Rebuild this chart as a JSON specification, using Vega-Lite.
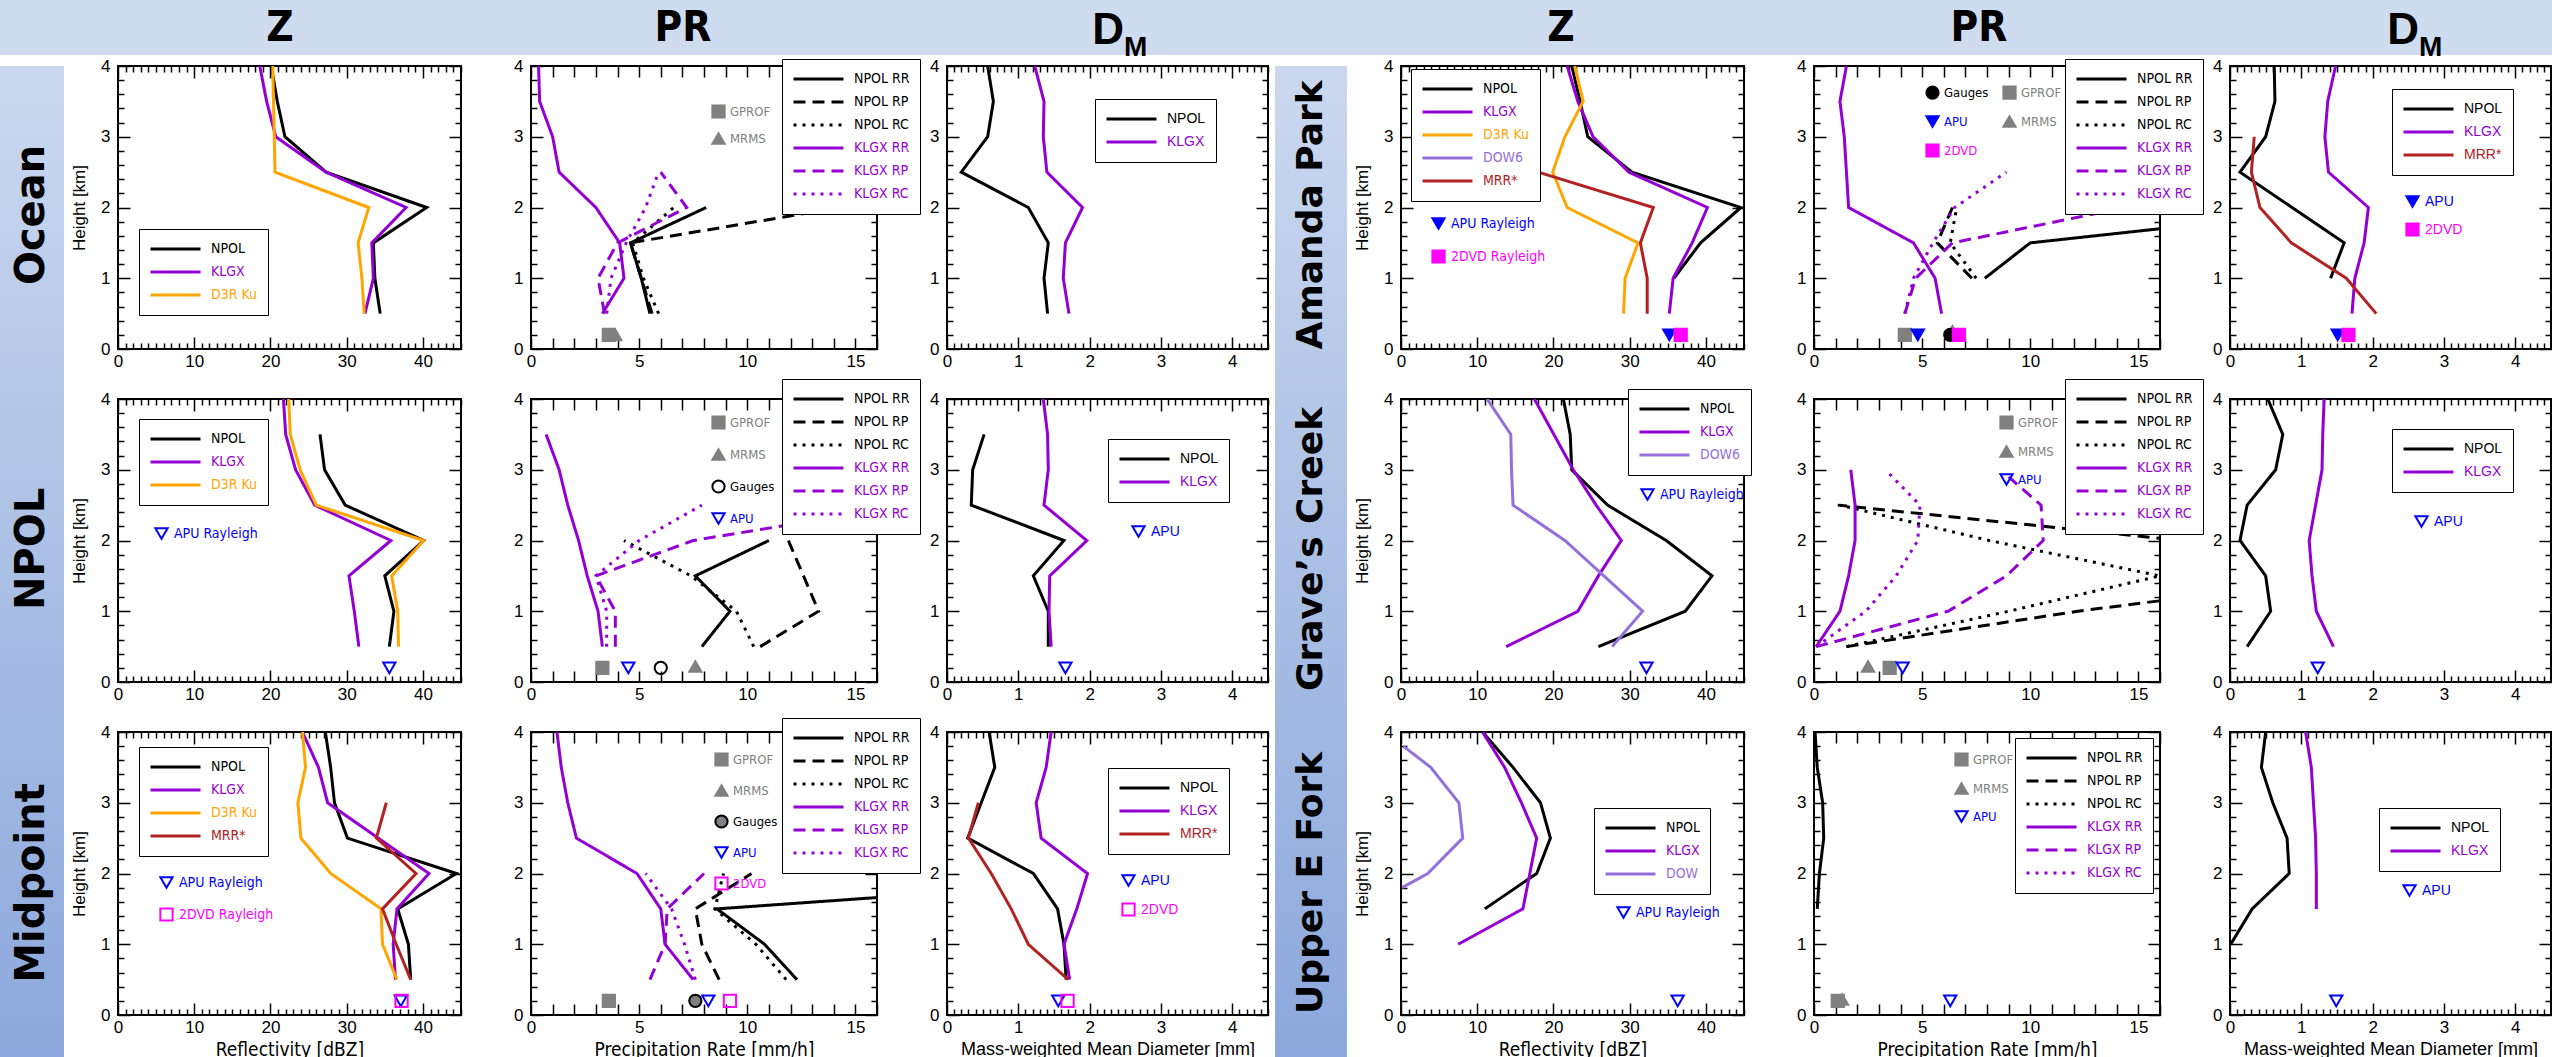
{
"$schema": "https://vega.github.io/schema/vega-lite/v6.json",
"padding": 0,
"background": "white",
"spacing": -6,
"config": {
  "view": {"stroke": "#000000", "strokeWidth": 2},
  "axis": {"domain": false, "grid": false, "labelFont": "Liberation Sans", "labelFontSize": 17, "labelColor": "#000000", "titleFont": "Liberation Sans", "titleFontSize": 17, "titleFontWeight": "normal", "titleColor": "#000000", "tickColor": "#000000", "tickWidth": 1.5, "labelFlush": false, "labelOverlap": false, "labelBound": false},
  "axisX": {"labelPadding": 4},
  "axisY": {"labelPadding": 8},
  "legend": {"orient": "none", "labelFont": "Liberation Sans Narrow, DejaVu Sans Condensed, Liberation Sans, sans-serif", "labelFontSize": 14, "labelLimit": 400, "rowPadding": 3, "padding": 10, "labelOffset": 9, "symbolStrokeWidth": 3},
  "line": {"strokeWidth": 3},
  "point": {"size": 150, "strokeWidth": 2, "opacity": 1}
},
"vconcat": [
{"hconcat": [
  {"width": 116, "height": 55, "view": {"fill": "#cfdcf0", "stroke": null}, "data": {"values": [{}]}, "mark": {"type": "text"}, "encoding": {"text": {"value": ""}}},
  {"width": 328, "height": 55, "view": {"fill": "#cfdcf0", "stroke": null}, "data": {"values": [{"t": "Z"}]}, "mark": {"type": "text", "font": "Liberation Sans Narrow, DejaVu Sans Condensed, Liberation Sans, sans-serif", "fontWeight": "bold", "fontSize": 42}, "encoding": {"text": {"field": "t"}}},
  {"width": 85, "height": 55, "view": {"fill": "#cfdcf0", "stroke": null}, "data": {"values": [{}]}, "mark": {"type": "text"}, "encoding": {"text": {"value": ""}}},
  {"width": 308, "height": 55, "view": {"fill": "#cfdcf0", "stroke": null}, "data": {"values": [{"t": "PR"}]}, "mark": {"type": "text", "font": "Liberation Sans Narrow, DejaVu Sans Condensed, Liberation Sans, sans-serif", "fontWeight": "bold", "fontSize": 42}, "encoding": {"text": {"field": "t"}}},
  {"width": 109, "height": 55, "view": {"fill": "#cfdcf0", "stroke": null}, "data": {"values": [{}]}, "mark": {"type": "text"}, "encoding": {"text": {"value": ""}}},
  {"width": 356, "height": 55, "view": {"fill": "#cfdcf0", "stroke": null}, "layer": [
    {"data": {"values": [{"t": "D"}]}, "mark": {"type": "text", "align": "right", "dy": 3, "font": "Liberation Sans", "fontWeight": "bold", "fontSize": 44}, "encoding": {"text": {"field": "t"}}},
    {"data": {"values": [{"t": "M"}]}, "mark": {"type": "text", "align": "left", "baseline": "alphabetic", "dy": 28, "font": "Liberation Sans", "fontWeight": "bold", "fontSize": 28}, "encoding": {"text": {"field": "t"}}}
  ]},
  {"width": 95, "height": 55, "view": {"fill": "#cfdcf0", "stroke": null}, "data": {"values": [{}]}, "mark": {"type": "text"}, "encoding": {"text": {"value": ""}}},
  {"width": 328, "height": 55, "view": {"fill": "#cfdcf0", "stroke": null}, "data": {"values": [{"t": "Z"}]}, "mark": {"type": "text", "font": "Liberation Sans Narrow, DejaVu Sans Condensed, Liberation Sans, sans-serif", "fontWeight": "bold", "fontSize": 42}, "encoding": {"text": {"field": "t"}}},
  {"width": 86, "height": 55, "view": {"fill": "#cfdcf0", "stroke": null}, "data": {"values": [{}]}, "mark": {"type": "text"}, "encoding": {"text": {"value": ""}}},
  {"width": 336, "height": 55, "view": {"fill": "#cfdcf0", "stroke": null}, "data": {"values": [{"t": "PR"}]}, "mark": {"type": "text", "font": "Liberation Sans Narrow, DejaVu Sans Condensed, Liberation Sans, sans-serif", "fontWeight": "bold", "fontSize": 42}, "encoding": {"text": {"field": "t"}}},
  {"width": 139, "height": 55, "view": {"fill": "#cfdcf0", "stroke": null}, "data": {"values": [{}]}, "mark": {"type": "text"}, "encoding": {"text": {"value": ""}}},
  {"width": 266, "height": 55, "view": {"fill": "#cfdcf0", "stroke": null}, "layer": [
    {"data": {"values": [{"t": "D"}]}, "mark": {"type": "text", "align": "right", "dy": 3, "font": "Liberation Sans", "fontWeight": "bold", "fontSize": 44}, "encoding": {"text": {"field": "t"}}},
    {"data": {"values": [{"t": "M"}]}, "mark": {"type": "text", "align": "left", "baseline": "alphabetic", "dy": 28, "font": "Liberation Sans", "fontWeight": "bold", "fontSize": 28}, "encoding": {"text": {"field": "t"}}}
  ]}
], "spacing": 0, "bounds": "flush"},
{"hconcat": [
  {"width": 64, "height": 1002, "view": {"stroke": null}, "layer": [
    {"data": {"values": [{}]}, "mark": {"type": "rect", "fill": {"gradient": "linear", "x1": 0, "y1": 0, "x2": 0, "y2": 1, "stops": [{"offset": 0, "color": "#cbd8ef"}, {"offset": 1, "color": "#8ba7db"}]}}, "encoding": {}},
    {"data": {"values": [{"r": "Ocean"}, {"r": "NPOL"}, {"r": "Midpoint"}]}, "mark": {"type": "text", "angle": 270, "font": "DejaVu Sans", "fontWeight": "bold", "fontSize": 40}, "encoding": {"y": {"field": "r", "type": "nominal", "scale": {"domain": ["Ocean", "NPOL", "Midpoint"], "padding": 0.5, "align": 0.446}, "axis": null}, "text": {"field": "r"}}}
  ]},
  {"concat": [
    {"width": 343, "height": 283, "layer": [
      {"data": {"values": [{"s":"NPOL","h":4,"v":20.1},{"s":"NPOL","h":3.5,"v":20.9},{"s":"NPOL","h":3,"v":21.9},{"s":"NPOL","h":2.5,"v":27.3},{"s":"NPOL","h":2,"v":40.5},{"s":"NPOL","h":1.5,"v":33.5},{"s":"NPOL","h":1,"v":33.7},{"s":"NPOL","h":0.5,"v":34.4},{"s":"KLGX","h":4,"v":18.6},{"s":"KLGX","h":3.5,"v":19.5},{"s":"KLGX","h":3,"v":20.7},{"s":"KLGX","h":2.5,"v":27.3},{"s":"KLGX","h":2,"v":37.8},{"s":"KLGX","h":1.5,"v":33.3},{"s":"KLGX","h":1,"v":33.5},{"s":"KLGX","h":0.5,"v":32.4},{"s":"D3R Ku","h":4,"v":20.3},{"s":"D3R Ku","h":3.5,"v":20.4},{"s":"D3R Ku","h":3,"v":20.5},{"s":"D3R Ku","h":2.5,"v":20.6},{"s":"D3R Ku","h":2,"v":32.9},{"s":"D3R Ku","h":1.5,"v":31.5},{"s":"D3R Ku","h":1,"v":32.0},{"s":"D3R Ku","h":0.5,"v":32.3}]},
       "mark": {"type": "line", "clip": true},
       "encoding": {
         "x": {"field":"v","type":"quantitative","scale":{"domain":[0,45],"nice":false},"axis":{"values":[0,10,20,30,40],"ticks":false,"title":null}},
         "y": {"field":"h","type":"quantitative","scale":{"domain":[0,4],"nice":false},"axis":{"values":[0,1,2,3,4],"ticks":false,"title":"Height [km]","titleFont":"Liberation Sans","titleFontSize":17,"titleFontWeight":"normal","titlePadding":12}},
         "color": {"field":"s","type":"nominal","scale":{"domain":["NPOL","KLGX","D3R Ku"],"range":["#000000","#9400d3","#ffa500"]},"legend":{"title":null,"legendX":21,"legendY":163,"symbolType":"stroke","symbolSize":2500,"clipHeight":20,"fillColor":"white","strokeColor":"black","labelColor":{"expr":"indexof(datum.value,'KLGX')===0?'#9400d3':datum.value==='D3R Ku'?'#ffa500':indexof(datum.value,'DOW')===0?'#9370db':datum.value==='MRR*'?'#b22222':'#000000'"}}},
         "order": {"field":"h","type":"quantitative"}}},
      {"data": {"values": [{"v":0,"h":0}]}, "mark": {"type":"point","opacity":0},
       "encoding": {"x": {"field":"v","type":"quantitative","scale":{"domain":[0,45],"nice":false},"axis":{"orient":"bottom","labels":false,"title":null,"tickCount":45,"tickSize":{"condition":{"test":"datum.value % 10 === 0","value":-12},"value":-6}}},
                    "y": {"field":"h","type":"quantitative","scale":{"domain":[0,4],"nice":false},"axis":{"orient":"left","labels":false,"title":null,"tickCount":20,"tickSize":{"condition":{"test":"datum.value % 1 === 0","value":-12},"value":-6}}}}},
      {"data": {"values": [{"v":0,"h":0}]}, "mark": {"type":"point","opacity":0},
       "encoding": {"x": {"field":"v","type":"quantitative","scale":{"domain":[0,45],"nice":false},"axis":{"orient":"top","labels":false,"title":null,"tickCount":45,"tickSize":{"condition":{"test":"datum.value % 10 === 0","value":-12},"value":-6}}},
                    "y": {"field":"h","type":"quantitative","scale":{"domain":[0,4],"nice":false},"axis":{"orient":"right","labels":false,"title":null,"tickCount":20,"tickSize":{"condition":{"test":"datum.value % 1 === 0","value":-12},"value":-6}}}}}
    ], "resolve": {"axis": {"x": "independent", "y": "independent"}}},

    {"width": 346, "height": 283, "layer": [
      {"data": {"values": [{"s":"NPOL RR","h":2,"v":8.1},{"s":"NPOL RR","h":1.5,"v":4.6},{"s":"NPOL RR","h":1,"v":5.1},{"s":"NPOL RR","h":0.5,"v":5.5},{"s":"NPOL RP","h":2,"v":14.3},{"s":"NPOL RP","h":1.5,"v":4.6},{"s":"NPOL RP","h":1,"v":5.1},{"s":"NPOL RP","h":0.5,"v":5.6},{"s":"NPOL RC","h":2,"v":6.6},{"s":"NPOL RC","h":1.5,"v":4.7},{"s":"NPOL RC","h":1,"v":5.2},{"s":"NPOL RC","h":0.5,"v":5.9},{"s":"KLGX RR","h":4,"v":0.35},{"s":"KLGX RR","h":3.5,"v":0.4},{"s":"KLGX RR","h":3,"v":1.0},{"s":"KLGX RR","h":2.5,"v":1.3},{"s":"KLGX RR","h":2,"v":3.0},{"s":"KLGX RR","h":1.5,"v":4.1},{"s":"KLGX RR","h":1,"v":4.3},{"s":"KLGX RR","h":0.5,"v":3.3},{"s":"KLGX RP","h":2.5,"v":6.0},{"s":"KLGX RP","h":2,"v":7.2},{"s":"KLGX RP","h":1.5,"v":4.0},{"s":"KLGX RP","h":1,"v":3.1},{"s":"KLGX RP","h":0.5,"v":3.4},{"s":"KLGX RC","h":2.5,"v":5.9},{"s":"KLGX RC","h":2,"v":5.3},{"s":"KLGX RC","h":1.5,"v":4.4},{"s":"KLGX RC","h":1,"v":3.7},{"s":"KLGX RC","h":0.5,"v":3.5}]},
       "mark": {"type": "line", "clip": true},
       "encoding": {
         "x": {"field":"v","type":"quantitative","scale":{"domain":[0,16],"nice":false},"axis":{"values":[0,5,10,15],"ticks":false,"title":null}},
         "y": {"field":"h","type":"quantitative","scale":{"domain":[0,4],"nice":false},"axis":{"values":[0,1,2,3,4],"ticks":false,"title":null}},
         "color": {"field":"s","type":"nominal","scale":{"domain":["NPOL RR","NPOL RP","NPOL RC","KLGX RR","KLGX RP","KLGX RC"],"range":["#000000","#000000","#000000","#9400d3","#9400d3","#9400d3"]},"legend":{"title":null,"legendX":251,"legendY":-7,"symbolType":"stroke","symbolSize":2500,"clipHeight":20,"fillColor":"white","strokeColor":"black","labelColor":{"expr":"indexof(datum.value,'KLGX')===0?'#9400d3':'#000000'"}}},
         "strokeDash": {"field":"s","type":"nominal","scale":{"domain":["NPOL RR","NPOL RP","NPOL RC","KLGX RR","KLGX RP","KLGX RC"],"range":[[1,0],[12,7],[3,6],[1,0],[12,7],[3,6]]}},
         "order": {"field":"h","type":"quantitative"}}},
      {"data": {"values": [{"m":"GPROF","h":0.2,"v":3.6},{"m":"MRMS","h":0.2,"v":3.9}]}, "mark": {"type":"point"},
       "encoding": {"x": {"field":"v","type":"quantitative","scale":{"domain":[0,16],"nice":false},"axis":{"orient":"bottom","labels":false,"title":null,"tickCount":16,"tickSize":-11}},
                    "y": {"field":"h","type":"quantitative","scale":{"domain":[0,4],"nice":false},"axis":{"orient":"left","labels":false,"title":null,"tickCount":20,"tickSize":{"condition":{"test":"datum.value % 1 === 0","value":-12},"value":-6}}},
                    "shape": {"field":"m","type":"nominal","scale":{"domain":["GPROF","MRMS"],"range":["square","triangle-up"]},"legend":{"title":null,"legendX":180,"legendY":38,"padding":0,"rowPadding":7,"labelFontSize":13,"symbolSize":150,"symbolStrokeWidth":2,"labelOffset":4,"labelColor":"#808080"}},
                    "fill": {"field":"m","type":"nominal","scale":{"domain":["GPROF","MRMS"],"range":["#808080","#808080"]}},
                    "stroke": {"field":"m","type":"nominal","scale":{"domain":["GPROF","MRMS"],"range":["#808080","#808080"]}}}},
      {"data": {"values": [{"v":0,"h":0}]}, "mark": {"type":"point","opacity":0},
       "encoding": {"x": {"field":"v","type":"quantitative","scale":{"domain":[0,16],"nice":false},"axis":{"orient":"top","labels":false,"title":null,"tickCount":16,"tickSize":-11}},
                    "y": {"field":"h","type":"quantitative","scale":{"domain":[0,4],"nice":false},"axis":{"orient":"right","labels":false,"title":null,"tickCount":20,"tickSize":{"condition":{"test":"datum.value % 1 === 0","value":-12},"value":-6}}}}}
    ], "resolve": {"axis": {"x": "independent", "y": "independent"}}},

    {"width": 321, "height": 283, "layer": [
      {"data": {"values": [{"s":"NPOL","h":4,"v":0.57},{"s":"NPOL","h":3.5,"v":0.65},{"s":"NPOL","h":3,"v":0.57},{"s":"NPOL","h":2.5,"v":0.2},{"s":"NPOL","h":2,"v":1.14},{"s":"NPOL","h":1.5,"v":1.42},{"s":"NPOL","h":1,"v":1.36},{"s":"NPOL","h":0.5,"v":1.41},{"s":"KLGX","h":4,"v":1.23},{"s":"KLGX","h":3.5,"v":1.36},{"s":"KLGX","h":3,"v":1.35},{"s":"KLGX","h":2.5,"v":1.40},{"s":"KLGX","h":2,"v":1.9},{"s":"KLGX","h":1.5,"v":1.66},{"s":"KLGX","h":1,"v":1.63},{"s":"KLGX","h":0.5,"v":1.71}]},
       "mark": {"type": "line", "clip": true},
       "encoding": {
         "x": {"field":"v","type":"quantitative","scale":{"domain":[0,4.5],"nice":false},"axis":{"values":[0,1,2,3,4],"ticks":false,"title":null}},
         "y": {"field":"h","type":"quantitative","scale":{"domain":[0,4],"nice":false},"axis":{"values":[0,1,2,3,4],"ticks":false,"title":null}},
         "color": {"field":"s","type":"nominal","scale":{"domain":["NPOL","KLGX"],"range":["#000000","#9400d3"]},"legend":{"title":null,"legendX":148,"legendY":33,"labelFont":"Liberation Sans","symbolType":"stroke","symbolSize":2500,"clipHeight":20,"fillColor":"white","strokeColor":"black","labelColor":{"expr":"indexof(datum.value,'KLGX')===0?'#9400d3':datum.value==='MRR*'?'#b22222':'#000000'"}}},
         "order": {"field":"h","type":"quantitative"}}},
      {"data": {"values": [{"v":0,"h":0}]}, "mark": {"type":"point","opacity":0},
       "encoding": {"x": {"field":"v","type":"quantitative","scale":{"domain":[0,4.5],"nice":false},"axis":{"orient":"bottom","labels":false,"title":null,"tickCount":45,"tickSize":{"condition":{"test":"datum.value % 1 === 0","value":-12},"value":-6}}},
                    "y": {"field":"h","type":"quantitative","scale":{"domain":[0,4],"nice":false},"axis":{"orient":"left","labels":false,"title":null,"tickCount":20,"tickSize":{"condition":{"test":"datum.value % 1 === 0","value":-12},"value":-6}}}}},
      {"data": {"values": [{"v":0,"h":0}]}, "mark": {"type":"point","opacity":0},
       "encoding": {"x": {"field":"v","type":"quantitative","scale":{"domain":[0,4.5],"nice":false},"axis":{"orient":"top","labels":false,"title":null,"tickCount":45,"tickSize":{"condition":{"test":"datum.value % 1 === 0","value":-12},"value":-6}}},
                    "y": {"field":"h","type":"quantitative","scale":{"domain":[0,4],"nice":false},"axis":{"orient":"right","labels":false,"title":null,"tickCount":20,"tickSize":{"condition":{"test":"datum.value % 1 === 0","value":-12},"value":-6}}}}}
    ], "resolve": {"axis": {"x": "independent", "y": "independent"}}},

    {"width": 343, "height": 283, "layer": [
      {"data": {"values": [{"s":"NPOL","h":3.5,"v":26.5},{"s":"NPOL","h":3,"v":27.1},{"s":"NPOL","h":2.5,"v":29.8},{"s":"NPOL","h":2,"v":40.1},{"s":"NPOL","h":1.5,"v":35.0},{"s":"NPOL","h":1,"v":36.2},{"s":"NPOL","h":0.5,"v":35.6},{"s":"KLGX","h":4,"v":21.7},{"s":"KLGX","h":3.5,"v":22.0},{"s":"KLGX","h":3,"v":23.3},{"s":"KLGX","h":2.5,"v":25.8},{"s":"KLGX","h":2,"v":35.8},{"s":"KLGX","h":1.5,"v":30.3},{"s":"KLGX","h":1,"v":31.0},{"s":"KLGX","h":0.5,"v":31.6},{"s":"D3R Ku","h":4,"v":22.4},{"s":"D3R Ku","h":3.5,"v":22.6},{"s":"D3R Ku","h":3,"v":23.9},{"s":"D3R Ku","h":2.5,"v":26.0},{"s":"D3R Ku","h":2,"v":40.1},{"s":"D3R Ku","h":1.5,"v":35.9},{"s":"D3R Ku","h":1,"v":36.7},{"s":"D3R Ku","h":0.5,"v":36.8}]},
       "mark": {"type": "line", "clip": true},
       "encoding": {
         "x": {"field":"v","type":"quantitative","scale":{"domain":[0,45],"nice":false},"axis":{"values":[0,10,20,30,40],"ticks":false,"title":null}},
         "y": {"field":"h","type":"quantitative","scale":{"domain":[0,4],"nice":false},"axis":{"values":[0,1,2,3,4],"ticks":false,"title":"Height [km]","titleFont":"Liberation Sans","titleFontSize":17,"titleFontWeight":"normal","titlePadding":12}},
         "color": {"field":"s","type":"nominal","scale":{"domain":["NPOL","KLGX","D3R Ku"],"range":["#000000","#9400d3","#ffa500"]},"legend":{"title":null,"legendX":21,"legendY":20,"symbolType":"stroke","symbolSize":2500,"clipHeight":20,"fillColor":"white","strokeColor":"black","labelColor":{"expr":"indexof(datum.value,'KLGX')===0?'#9400d3':datum.value==='D3R Ku'?'#ffa500':indexof(datum.value,'DOW')===0?'#9370db':datum.value==='MRR*'?'#b22222':'#000000'"}}},
         "order": {"field":"h","type":"quantitative"}}},
      {"data": {"values": [{"m":"APU Rayleigh","h":0.2,"v":35.6}]}, "mark": {"type":"point"},
       "encoding": {"x": {"field":"v","type":"quantitative","scale":{"domain":[0,45],"nice":false},"axis":{"orient":"bottom","labels":false,"title":null,"tickCount":45,"tickSize":{"condition":{"test":"datum.value % 10 === 0","value":-12},"value":-6}}},
                    "y": {"field":"h","type":"quantitative","scale":{"domain":[0,4],"nice":false},"axis":{"orient":"left","labels":false,"title":null,"tickCount":20,"tickSize":{"condition":{"test":"datum.value % 1 === 0","value":-12},"value":-6}}},
                    "shape": {"field":"m","type":"nominal","scale":{"domain":["APU Rayleigh"],"range":["triangle-down"]},"legend":{"title":null,"legendX":36,"legendY":127,"padding":0,"rowPadding":9,"symbolSize":150,"symbolStrokeWidth":2,"labelOffset":5,"labelColor":"#0000ff"}},
                    "fill": {"field":"m","type":"nominal","scale":{"domain":["APU Rayleigh"],"range":["transparent"]}},
                    "stroke": {"field":"m","type":"nominal","scale":{"domain":["APU Rayleigh"],"range":["#0000ff"]}}}},
      {"data": {"values": [{"v":0,"h":0}]}, "mark": {"type":"point","opacity":0},
       "encoding": {"x": {"field":"v","type":"quantitative","scale":{"domain":[0,45],"nice":false},"axis":{"orient":"top","labels":false,"title":null,"tickCount":45,"tickSize":{"condition":{"test":"datum.value % 10 === 0","value":-12},"value":-6}}},
                    "y": {"field":"h","type":"quantitative","scale":{"domain":[0,4],"nice":false},"axis":{"orient":"right","labels":false,"title":null,"tickCount":20,"tickSize":{"condition":{"test":"datum.value % 1 === 0","value":-12},"value":-6}}}}}
    ], "resolve": {"axis": {"x": "independent", "y": "independent"}}},

    {"width": 346, "height": 283, "layer": [
      {"data": {"values": [{"s":"NPOL RR","h":2,"v":11.0},{"s":"NPOL RR","h":1.5,"v":7.6},{"s":"NPOL RR","h":1,"v":9.2},{"s":"NPOL RR","h":0.5,"v":7.9},{"s":"NPOL RP","h":2,"v":11.9},{"s":"NPOL RP","h":1.5,"v":12.6},{"s":"NPOL RP","h":1,"v":13.3},{"s":"NPOL RP","h":0.5,"v":10.6},{"s":"NPOL RC","h":2,"v":4.3},{"s":"NPOL RC","h":1.5,"v":7.4},{"s":"NPOL RC","h":1,"v":9.5},{"s":"NPOL RC","h":0.5,"v":10.3},{"s":"KLGX RR","h":3.5,"v":0.7},{"s":"KLGX RR","h":3,"v":1.3},{"s":"KLGX RR","h":2.5,"v":1.7},{"s":"KLGX RR","h":2,"v":2.2},{"s":"KLGX RR","h":1.5,"v":2.6},{"s":"KLGX RR","h":1,"v":3.1},{"s":"KLGX RR","h":0.5,"v":3.3},{"s":"KLGX RP","h":2.5,"v":17.5},{"s":"KLGX RP","h":2,"v":7.5},{"s":"KLGX RP","h":1.5,"v":3.0},{"s":"KLGX RP","h":1,"v":3.9},{"s":"KLGX RP","h":0.5,"v":3.9},{"s":"KLGX RC","h":2.5,"v":7.9},{"s":"KLGX RC","h":2,"v":5.0},{"s":"KLGX RC","h":1.5,"v":3.0},{"s":"KLGX RC","h":1,"v":3.5},{"s":"KLGX RC","h":0.5,"v":3.5}]},
       "mark": {"type": "line", "clip": true},
       "encoding": {
         "x": {"field":"v","type":"quantitative","scale":{"domain":[0,16],"nice":false},"axis":{"values":[0,5,10,15],"ticks":false,"title":null}},
         "y": {"field":"h","type":"quantitative","scale":{"domain":[0,4],"nice":false},"axis":{"values":[0,1,2,3,4],"ticks":false,"title":null}},
         "color": {"field":"s","type":"nominal","scale":{"domain":["NPOL RR","NPOL RP","NPOL RC","KLGX RR","KLGX RP","KLGX RC"],"range":["#000000","#000000","#000000","#9400d3","#9400d3","#9400d3"]},"legend":{"title":null,"legendX":251,"legendY":-20,"symbolType":"stroke","symbolSize":2500,"clipHeight":20,"fillColor":"white","strokeColor":"black","labelColor":{"expr":"indexof(datum.value,'KLGX')===0?'#9400d3':'#000000'"}}},
         "strokeDash": {"field":"s","type":"nominal","scale":{"domain":["NPOL RR","NPOL RP","NPOL RC","KLGX RR","KLGX RP","KLGX RC"],"range":[[1,0],[12,7],[3,6],[1,0],[12,7],[3,6]]}},
         "order": {"field":"h","type":"quantitative"}}},
      {"data": {"values": [{"m":"GPROF","h":0.2,"v":3.3},{"m":"APU","h":0.2,"v":4.5},{"m":"Gauges","h":0.2,"v":6.0},{"m":"MRMS","h":0.22,"v":7.6}]}, "mark": {"type":"point"},
       "encoding": {"x": {"field":"v","type":"quantitative","scale":{"domain":[0,16],"nice":false},"axis":{"orient":"bottom","labels":false,"title":null,"tickCount":16,"tickSize":-11}},
                    "y": {"field":"h","type":"quantitative","scale":{"domain":[0,4],"nice":false},"axis":{"orient":"left","labels":false,"title":null,"tickCount":20,"tickSize":{"condition":{"test":"datum.value % 1 === 0","value":-12},"value":-6}}},
                    "shape": {"field":"m","type":"nominal","scale":{"domain":["GPROF","MRMS","Gauges","APU"],"range":["square","triangle-up","circle","triangle-down"]},"legend":{"title":null,"legendX":180,"legendY":16,"padding":0,"rowPadding":12,"labelFontSize":13,"symbolSize":150,"symbolStrokeWidth":2,"labelOffset":4,"labelColor":{"expr":"indexof(datum.value,'APU')===0?'#0000ff':indexof(datum.value,'2DVD')===0?'#ff00ff':(datum.value==='GPROF'||datum.value==='MRMS')?'#808080':'#000000'"}}},
                    "fill": {"field":"m","type":"nominal","scale":{"domain":["GPROF","MRMS","Gauges","APU"],"range":["#808080","#808080","transparent","transparent"]}},
                    "stroke": {"field":"m","type":"nominal","scale":{"domain":["GPROF","MRMS","Gauges","APU"],"range":["#808080","#808080","#000000","#0000ff"]}}}},
      {"data": {"values": [{"v":0,"h":0}]}, "mark": {"type":"point","opacity":0},
       "encoding": {"x": {"field":"v","type":"quantitative","scale":{"domain":[0,16],"nice":false},"axis":{"orient":"top","labels":false,"title":null,"tickCount":16,"tickSize":-11}},
                    "y": {"field":"h","type":"quantitative","scale":{"domain":[0,4],"nice":false},"axis":{"orient":"right","labels":false,"title":null,"tickCount":20,"tickSize":{"condition":{"test":"datum.value % 1 === 0","value":-12},"value":-6}}}}}
    ], "resolve": {"axis": {"x": "independent", "y": "independent"}}},

    {"width": 321, "height": 283, "layer": [
      {"data": {"values": [{"s":"NPOL","h":3.5,"v":0.52},{"s":"NPOL","h":3,"v":0.36},{"s":"NPOL","h":2.5,"v":0.34},{"s":"NPOL","h":2,"v":1.64},{"s":"NPOL","h":1.5,"v":1.21},{"s":"NPOL","h":1,"v":1.42},{"s":"NPOL","h":0.5,"v":1.42},{"s":"KLGX","h":4,"v":1.35},{"s":"KLGX","h":3.5,"v":1.41},{"s":"KLGX","h":3,"v":1.42},{"s":"KLGX","h":2.5,"v":1.36},{"s":"KLGX","h":2,"v":1.96},{"s":"KLGX","h":1.5,"v":1.44},{"s":"KLGX","h":1,"v":1.43},{"s":"KLGX","h":0.5,"v":1.46}]},
       "mark": {"type": "line", "clip": true},
       "encoding": {
         "x": {"field":"v","type":"quantitative","scale":{"domain":[0,4.5],"nice":false},"axis":{"values":[0,1,2,3,4],"ticks":false,"title":null}},
         "y": {"field":"h","type":"quantitative","scale":{"domain":[0,4],"nice":false},"axis":{"values":[0,1,2,3,4],"ticks":false,"title":null}},
         "color": {"field":"s","type":"nominal","scale":{"domain":["NPOL","KLGX"],"range":["#000000","#9400d3"]},"legend":{"title":null,"legendX":161,"legendY":40,"labelFont":"Liberation Sans","symbolType":"stroke","symbolSize":2500,"clipHeight":20,"fillColor":"white","strokeColor":"black","labelColor":{"expr":"indexof(datum.value,'KLGX')===0?'#9400d3':datum.value==='MRR*'?'#b22222':'#000000'"}}},
         "order": {"field":"h","type":"quantitative"}}},
      {"data": {"values": [{"m":"APU","h":0.2,"v":1.66}]}, "mark": {"type":"point"},
       "encoding": {"x": {"field":"v","type":"quantitative","scale":{"domain":[0,4.5],"nice":false},"axis":{"orient":"bottom","labels":false,"title":null,"tickCount":45,"tickSize":{"condition":{"test":"datum.value % 1 === 0","value":-12},"value":-6}}},
                    "y": {"field":"h","type":"quantitative","scale":{"domain":[0,4],"nice":false},"axis":{"orient":"left","labels":false,"title":null,"tickCount":20,"tickSize":{"condition":{"test":"datum.value % 1 === 0","value":-12},"value":-6}}},
                    "shape": {"field":"m","type":"nominal","scale":{"domain":["APU"],"range":["triangle-down"]},"legend":{"title":null,"legendX":184,"legendY":125,"padding":0,"rowPadding":9,"labelFont":"Liberation Sans","symbolSize":150,"symbolStrokeWidth":2,"labelOffset":5,"labelColor":"#0000ff"}},
                    "fill": {"field":"m","type":"nominal","scale":{"domain":["APU"],"range":["transparent"]}},
                    "stroke": {"field":"m","type":"nominal","scale":{"domain":["APU"],"range":["#0000ff"]}}}},
      {"data": {"values": [{"v":0,"h":0}]}, "mark": {"type":"point","opacity":0},
       "encoding": {"x": {"field":"v","type":"quantitative","scale":{"domain":[0,4.5],"nice":false},"axis":{"orient":"top","labels":false,"title":null,"tickCount":45,"tickSize":{"condition":{"test":"datum.value % 1 === 0","value":-12},"value":-6}}},
                    "y": {"field":"h","type":"quantitative","scale":{"domain":[0,4],"nice":false},"axis":{"orient":"right","labels":false,"title":null,"tickCount":20,"tickSize":{"condition":{"test":"datum.value % 1 === 0","value":-12},"value":-6}}}}}
    ], "resolve": {"axis": {"x": "independent", "y": "independent"}}},

    {"width": 343, "height": 283, "layer": [
      {"data": {"values": [{"s":"NPOL","h":4,"v":27.2},{"s":"NPOL","h":3.5,"v":27.9},{"s":"NPOL","h":3,"v":28.4},{"s":"NPOL","h":2.5,"v":30.1},{"s":"NPOL","h":2,"v":44.4},{"s":"NPOL","h":1.5,"v":36.7},{"s":"NPOL","h":1,"v":38.1},{"s":"NPOL","h":0.5,"v":38.4},{"s":"KLGX","h":4,"v":24.2},{"s":"KLGX","h":3.5,"v":26.3},{"s":"KLGX","h":3,"v":27.5},{"s":"KLGX","h":2,"v":40.8},{"s":"KLGX","h":1.5,"v":36.6},{"s":"KLGX","h":1,"v":36.1},{"s":"KLGX","h":0.5,"v":36.4},{"s":"D3R Ku","h":4,"v":24.2},{"s":"D3R Ku","h":3.5,"v":24.6},{"s":"D3R Ku","h":3,"v":23.6},{"s":"D3R Ku","h":2.5,"v":24.0},{"s":"D3R Ku","h":2,"v":27.9},{"s":"D3R Ku","h":1.5,"v":34.5},{"s":"D3R Ku","h":1,"v":34.7},{"s":"D3R Ku","h":0.5,"v":36.6},{"s":"MRR*","h":3,"v":35.2},{"s":"MRR*","h":2.5,"v":33.9},{"s":"MRR*","h":2,"v":39.1},{"s":"MRR*","h":1.5,"v":34.7},{"s":"MRR*","h":1,"v":36.5},{"s":"MRR*","h":0.5,"v":38.4}]},
       "mark": {"type": "line", "clip": true},
       "encoding": {
         "x": {"field":"v","type":"quantitative","scale":{"domain":[0,45],"nice":false},"axis":{"values":[0,10,20,30,40],"ticks":false,"title":"Reflectivity [dBZ]","titleFont":"Liberation Sans Narrow, DejaVu Sans Condensed, Liberation Sans, sans-serif","titleFontSize":19,"titleFontWeight":"normal","titlePadding":5}},
         "y": {"field":"h","type":"quantitative","scale":{"domain":[0,4],"nice":false},"axis":{"values":[0,1,2,3,4],"ticks":false,"title":"Height [km]","titleFont":"Liberation Sans","titleFontSize":17,"titleFontWeight":"normal","titlePadding":12}},
         "color": {"field":"s","type":"nominal","scale":{"domain":["NPOL","KLGX","D3R Ku","MRR*"],"range":["#000000","#9400d3","#ffa500","#b22222"]},"legend":{"title":null,"legendX":21,"legendY":15,"symbolType":"stroke","symbolSize":2500,"clipHeight":20,"fillColor":"white","strokeColor":"black","labelColor":{"expr":"indexof(datum.value,'KLGX')===0?'#9400d3':datum.value==='D3R Ku'?'#ffa500':indexof(datum.value,'DOW')===0?'#9370db':datum.value==='MRR*'?'#b22222':'#000000'"}}},
         "order": {"field":"h","type":"quantitative"}}},
      {"data": {"values": [{"m":"APU Rayleigh","h":0.2,"v":37.1},{"m":"2DVD Rayleigh","h":0.2,"v":37.2}]}, "mark": {"type":"point"},
       "encoding": {"x": {"field":"v","type":"quantitative","scale":{"domain":[0,45],"nice":false},"axis":{"orient":"bottom","labels":false,"title":null,"tickCount":45,"tickSize":{"condition":{"test":"datum.value % 10 === 0","value":-12},"value":-6}}},
                    "y": {"field":"h","type":"quantitative","scale":{"domain":[0,4],"nice":false},"axis":{"orient":"left","labels":false,"title":null,"tickCount":20,"tickSize":{"condition":{"test":"datum.value % 1 === 0","value":-12},"value":-6}}},
                    "shape": {"field":"m","type":"nominal","scale":{"domain":["APU Rayleigh","2DVD Rayleigh"],"range":["triangle-down","square"]},"legend":{"title":null,"legendX":41,"legendY":143,"padding":0,"rowPadding":12,"symbolSize":150,"symbolStrokeWidth":2,"labelOffset":5,"labelColor":{"expr":"indexof(datum.value,'APU')===0?'#0000ff':'#ff00ff'"}}},
                    "fill": {"field":"m","type":"nominal","scale":{"domain":["APU Rayleigh","2DVD Rayleigh"],"range":["transparent","transparent"]}},
                    "stroke": {"field":"m","type":"nominal","scale":{"domain":["APU Rayleigh","2DVD Rayleigh"],"range":["#0000ff","#ff00ff"]}}}},
      {"data": {"values": [{"v":0,"h":0}]}, "mark": {"type":"point","opacity":0},
       "encoding": {"x": {"field":"v","type":"quantitative","scale":{"domain":[0,45],"nice":false},"axis":{"orient":"top","labels":false,"title":null,"tickCount":45,"tickSize":{"condition":{"test":"datum.value % 10 === 0","value":-12},"value":-6}}},
                    "y": {"field":"h","type":"quantitative","scale":{"domain":[0,4],"nice":false},"axis":{"orient":"right","labels":false,"title":null,"tickCount":20,"tickSize":{"condition":{"test":"datum.value % 1 === 0","value":-12},"value":-6}}}}}
    ], "resolve": {"axis": {"x": "independent", "y": "independent"}}},

    {"width": 346, "height": 283, "layer": [
      {"data": {"values": [{"s":"NPOL RR","h":2,"v":31.7},{"s":"NPOL RR","h":1.5,"v":8.6},{"s":"NPOL RR","h":1,"v":10.8},{"s":"NPOL RR","h":0.5,"v":12.3},{"s":"NPOL RP","h":2,"v":10.2},{"s":"NPOL RP","h":1.5,"v":7.6},{"s":"NPOL RP","h":1,"v":7.9},{"s":"NPOL RP","h":0.5,"v":8.7},{"s":"NPOL RC","h":2,"v":8.9},{"s":"NPOL RC","h":1.5,"v":8.5},{"s":"NPOL RC","h":1,"v":10.4},{"s":"NPOL RC","h":0.5,"v":11.8},{"s":"KLGX RR","h":4,"v":1.2},{"s":"KLGX RR","h":3.5,"v":1.4},{"s":"KLGX RR","h":3,"v":1.7},{"s":"KLGX RR","h":2.5,"v":2.1},{"s":"KLGX RR","h":2,"v":4.9},{"s":"KLGX RR","h":1.5,"v":6.0},{"s":"KLGX RR","h":1,"v":6.2},{"s":"KLGX RR","h":0.5,"v":7.5},{"s":"KLGX RP","h":2,"v":8.0},{"s":"KLGX RP","h":1.5,"v":6.3},{"s":"KLGX RP","h":1,"v":6.2},{"s":"KLGX RP","h":0.5,"v":5.5},{"s":"KLGX RC","h":2,"v":5.3},{"s":"KLGX RC","h":1.5,"v":6.5},{"s":"KLGX RC","h":1,"v":7.1},{"s":"KLGX RC","h":0.5,"v":7.6}]},
       "mark": {"type": "line", "clip": true},
       "encoding": {
         "x": {"field":"v","type":"quantitative","scale":{"domain":[0,16],"nice":false},"axis":{"values":[0,5,10,15],"ticks":false,"title":"Precipitation Rate [mm/h]","titleFont":"Liberation Sans Narrow, DejaVu Sans Condensed, Liberation Sans, sans-serif","titleFontSize":19,"titleFontWeight":"normal","titlePadding":5}},
         "y": {"field":"h","type":"quantitative","scale":{"domain":[0,4],"nice":false},"axis":{"values":[0,1,2,3,4],"ticks":false,"title":null}},
         "color": {"field":"s","type":"nominal","scale":{"domain":["NPOL RR","NPOL RP","NPOL RC","KLGX RR","KLGX RP","KLGX RC"],"range":["#000000","#000000","#000000","#9400d3","#9400d3","#9400d3"]},"legend":{"title":null,"legendX":251,"legendY":-14,"symbolType":"stroke","symbolSize":2500,"clipHeight":20,"fillColor":"white","strokeColor":"black","labelColor":{"expr":"indexof(datum.value,'KLGX')===0?'#9400d3':'#000000'"}}},
         "strokeDash": {"field":"s","type":"nominal","scale":{"domain":["NPOL RR","NPOL RP","NPOL RC","KLGX RR","KLGX RP","KLGX RC"],"range":[[1,0],[12,7],[3,6],[1,0],[12,7],[3,6]]}},
         "order": {"field":"h","type":"quantitative"}}},
      {"data": {"values": [{"m":"GPROF","h":0.2,"v":3.6},{"m":"Gauges","h":0.2,"v":7.6},{"m":"APU","h":0.2,"v":8.2},{"m":"2DVD","h":0.2,"v":9.2}]}, "mark": {"type":"point"},
       "encoding": {"x": {"field":"v","type":"quantitative","scale":{"domain":[0,16],"nice":false},"axis":{"orient":"bottom","labels":false,"title":null,"tickCount":16,"tickSize":-11}},
                    "y": {"field":"h","type":"quantitative","scale":{"domain":[0,4],"nice":false},"axis":{"orient":"left","labels":false,"title":null,"tickCount":20,"tickSize":{"condition":{"test":"datum.value % 1 === 0","value":-12},"value":-6}}},
                    "shape": {"field":"m","type":"nominal","scale":{"domain":["GPROF","MRMS","Gauges","APU","2DVD"],"range":["square","triangle-up","circle","triangle-down","square"]},"legend":{"title":null,"legendX":183,"legendY":20,"padding":0,"rowPadding":11,"labelFontSize":13,"symbolSize":150,"symbolStrokeWidth":2,"labelOffset":4,"labelColor":{"expr":"indexof(datum.value,'APU')===0?'#0000ff':indexof(datum.value,'2DVD')===0?'#ff00ff':(datum.value==='GPROF'||datum.value==='MRMS')?'#808080':'#000000'"}}},
                    "fill": {"field":"m","type":"nominal","scale":{"domain":["GPROF","MRMS","Gauges","APU","2DVD"],"range":["#808080","#808080","#808080","transparent","transparent"]}},
                    "stroke": {"field":"m","type":"nominal","scale":{"domain":["GPROF","MRMS","Gauges","APU","2DVD"],"range":["#808080","#808080","#000000","#0000ff","#ff00ff"]}}}},
      {"data": {"values": [{"v":0,"h":0}]}, "mark": {"type":"point","opacity":0},
       "encoding": {"x": {"field":"v","type":"quantitative","scale":{"domain":[0,16],"nice":false},"axis":{"orient":"top","labels":false,"title":null,"tickCount":16,"tickSize":-11}},
                    "y": {"field":"h","type":"quantitative","scale":{"domain":[0,4],"nice":false},"axis":{"orient":"right","labels":false,"title":null,"tickCount":20,"tickSize":{"condition":{"test":"datum.value % 1 === 0","value":-12},"value":-6}}}}}
    ], "resolve": {"axis": {"x": "independent", "y": "independent"}}},

    {"width": 321, "height": 283, "layer": [
      {"data": {"values": [{"s":"NPOL","h":4,"v":0.59},{"s":"NPOL","h":3.5,"v":0.67},{"s":"NPOL","h":3,"v":0.48},{"s":"NPOL","h":2.5,"v":0.29},{"s":"NPOL","h":2,"v":1.21},{"s":"NPOL","h":1.5,"v":1.55},{"s":"NPOL","h":1,"v":1.64},{"s":"NPOL","h":0.5,"v":1.67},{"s":"KLGX","h":4,"v":1.46},{"s":"KLGX","h":3.5,"v":1.39},{"s":"KLGX","h":3,"v":1.25},{"s":"KLGX","h":2.5,"v":1.32},{"s":"KLGX","h":2,"v":1.97},{"s":"KLGX","h":1.5,"v":1.82},{"s":"KLGX","h":1,"v":1.64},{"s":"KLGX","h":0.5,"v":1.72},{"s":"MRR*","h":3,"v":0.44},{"s":"MRR*","h":2.5,"v":0.30},{"s":"MRR*","h":2,"v":0.62},{"s":"MRR*","h":1.5,"v":0.9},{"s":"MRR*","h":1,"v":1.14},{"s":"MRR*","h":0.5,"v":1.70}]},
       "mark": {"type": "line", "clip": true},
       "encoding": {
         "x": {"field":"v","type":"quantitative","scale":{"domain":[0,4.5],"nice":false},"axis":{"values":[0,1,2,3,4],"ticks":false,"title":"Mass-weighted Mean Diameter [mm]","titleFont":"Liberation Sans","titleFontSize":18,"titleFontWeight":"normal","titlePadding":5}},
         "y": {"field":"h","type":"quantitative","scale":{"domain":[0,4],"nice":false},"axis":{"values":[0,1,2,3,4],"ticks":false,"title":null}},
         "color": {"field":"s","type":"nominal","scale":{"domain":["NPOL","KLGX","MRR*"],"range":["#000000","#9400d3","#b22222"]},"legend":{"title":null,"legendX":161,"legendY":36,"labelFont":"Liberation Sans","symbolType":"stroke","symbolSize":2500,"clipHeight":20,"fillColor":"white","strokeColor":"black","labelColor":{"expr":"indexof(datum.value,'KLGX')===0?'#9400d3':datum.value==='MRR*'?'#b22222':'#000000'"}}},
         "order": {"field":"h","type":"quantitative"}}},
      {"data": {"values": [{"m":"APU","h":0.2,"v":1.56},{"m":"2DVD","h":0.2,"v":1.69}]}, "mark": {"type":"point"},
       "encoding": {"x": {"field":"v","type":"quantitative","scale":{"domain":[0,4.5],"nice":false},"axis":{"orient":"bottom","labels":false,"title":null,"tickCount":45,"tickSize":{"condition":{"test":"datum.value % 1 === 0","value":-12},"value":-6}}},
                    "y": {"field":"h","type":"quantitative","scale":{"domain":[0,4],"nice":false},"axis":{"orient":"left","labels":false,"title":null,"tickCount":20,"tickSize":{"condition":{"test":"datum.value % 1 === 0","value":-12},"value":-6}}},
                    "shape": {"field":"m","type":"nominal","scale":{"domain":["APU","2DVD"],"range":["triangle-down","square"]},"legend":{"title":null,"legendX":174,"legendY":141,"padding":0,"rowPadding":9,"labelFont":"Liberation Sans","symbolSize":150,"symbolStrokeWidth":2,"labelOffset":5,"labelColor":{"expr":"indexof(datum.value,'APU')===0?'#0000ff':'#ff00ff'"}}},
                    "fill": {"field":"m","type":"nominal","scale":{"domain":["APU","2DVD"],"range":["transparent","transparent"]}},
                    "stroke": {"field":"m","type":"nominal","scale":{"domain":["APU","2DVD"],"range":["#0000ff","#ff00ff"]}}}},
      {"data": {"values": [{"v":0,"h":0}]}, "mark": {"type":"point","opacity":0},
       "encoding": {"x": {"field":"v","type":"quantitative","scale":{"domain":[0,4.5],"nice":false},"axis":{"orient":"top","labels":false,"title":null,"tickCount":45,"tickSize":{"condition":{"test":"datum.value % 1 === 0","value":-12},"value":-6}}},
                    "y": {"field":"h","type":"quantitative","scale":{"domain":[0,4],"nice":false},"axis":{"orient":"right","labels":false,"title":null,"tickCount":20,"tickSize":{"condition":{"test":"datum.value % 1 === 0","value":-12},"value":-6}}}}}
    ], "resolve": {"axis": {"x": "independent", "y": "independent"}}}
  ], "columns": 3, "spacing": {"row": 50, "column": 70}, "bounds": "flush", "align": "each",
  "resolve": {"scale": {"color": "independent", "strokeDash": "independent", "shape": "independent", "fill": "independent", "stroke": "independent"}}},

  {"width": 72, "height": 1002, "view": {"stroke": null}, "layer": [
    {"data": {"values": [{}]}, "mark": {"type": "rect", "fill": {"gradient": "linear", "x1": 0, "y1": 0, "x2": 0, "y2": 1, "stops": [{"offset": 0, "color": "#cbd8ef"}, {"offset": 1, "color": "#8ba7db"}]}}, "encoding": {}},
    {"data": {"values": [{"r": "Amanda Park"}, {"r": "Grave’s Creek"}, {"r": "Upper E Fork"}]}, "mark": {"type": "text", "angle": 270, "font": "DejaVu Sans", "fontWeight": "bold", "fontSize": 36}, "encoding": {"y": {"field": "r", "type": "nominal", "scale": {"domain": ["Amanda Park", "Grave’s Creek", "Upper E Fork"], "padding": 0.5, "align": 0.446}, "axis": null}, "text": {"field": "r"}}}
  ]},

  {"concat": [
    {"width": 343, "height": 283, "layer": [
      {"data": {"values": [{"s":"NPOL","h":4,"v":22.4},{"s":"NPOL","h":3.5,"v":23.5},{"s":"NPOL","h":3,"v":24.5},{"s":"NPOL","h":2.5,"v":30.3},{"s":"NPOL","h":2,"v":44.6},{"s":"NPOL","h":1.5,"v":39.3},{"s":"NPOL","h":1,"v":35.8},{"s":"KLGX","h":4,"v":21.8},{"s":"KLGX","h":3.5,"v":23.2},{"s":"KLGX","h":3,"v":25.2},{"s":"KLGX","h":2.5,"v":29.9},{"s":"KLGX","h":2,"v":40.2},{"s":"KLGX","h":1.5,"v":38.2},{"s":"KLGX","h":1,"v":35.7},{"s":"KLGX","h":0.5,"v":35.2},{"s":"D3R Ku","h":4,"v":22.8},{"s":"D3R Ku","h":3.5,"v":23.9},{"s":"D3R Ku","h":3,"v":21.5},{"s":"D3R Ku","h":2.5,"v":19.9},{"s":"D3R Ku","h":2,"v":21.8},{"s":"D3R Ku","h":1.5,"v":31.1},{"s":"D3R Ku","h":1,"v":29.4},{"s":"D3R Ku","h":0.5,"v":29.2},{"s":"MRR*","h":3,"v":8.0},{"s":"MRR*","h":2.5,"v":18.0},{"s":"MRR*","h":2,"v":33.1},{"s":"MRR*","h":1.5,"v":31.4},{"s":"MRR*","h":1,"v":32.3},{"s":"MRR*","h":0.5,"v":32.3}]},
       "mark": {"type": "line", "clip": true},
       "encoding": {
         "x": {"field":"v","type":"quantitative","scale":{"domain":[0,45],"nice":false},"axis":{"values":[0,10,20,30,40],"ticks":false,"title":null}},
         "y": {"field":"h","type":"quantitative","scale":{"domain":[0,4],"nice":false},"axis":{"values":[0,1,2,3,4],"ticks":false,"title":"Height [km]","titleFont":"Liberation Sans","titleFontSize":17,"titleFontWeight":"normal","titlePadding":12}},
         "color": {"field":"s","type":"nominal","scale":{"domain":["NPOL","KLGX","D3R Ku","DOW6","MRR*"],"range":["#000000","#9400d3","#ffa500","#9370db","#b22222"]},"legend":{"title":null,"legendX":10,"legendY":3,"symbolType":"stroke","symbolSize":2500,"clipHeight":20,"fillColor":"white","strokeColor":"black","labelColor":{"expr":"indexof(datum.value,'KLGX')===0?'#9400d3':datum.value==='D3R Ku'?'#ffa500':indexof(datum.value,'DOW')===0?'#9370db':datum.value==='MRR*'?'#b22222':'#000000'"}}},
         "order": {"field":"h","type":"quantitative"}}},
      {"data": {"values": [{"m":"APU Rayleigh","h":0.2,"v":35.2},{"m":"2DVD Rayleigh","h":0.2,"v":36.7}]}, "mark": {"type":"point"},
       "encoding": {"x": {"field":"v","type":"quantitative","scale":{"domain":[0,45],"nice":false},"axis":{"orient":"bottom","labels":false,"title":null,"tickCount":45,"tickSize":{"condition":{"test":"datum.value % 10 === 0","value":-12},"value":-6}}},
                    "y": {"field":"h","type":"quantitative","scale":{"domain":[0,4],"nice":false},"axis":{"orient":"left","labels":false,"title":null,"tickCount":20,"tickSize":{"condition":{"test":"datum.value % 1 === 0","value":-12},"value":-6}}},
                    "shape": {"field":"m","type":"nominal","scale":{"domain":["APU Rayleigh","2DVD Rayleigh"],"range":["triangle-down","square"]},"legend":{"title":null,"legendX":30,"legendY":150,"padding":0,"rowPadding":13,"symbolSize":150,"symbolStrokeWidth":2,"labelOffset":5,"labelColor":{"expr":"indexof(datum.value,'APU')===0?'#0000ff':'#ff00ff'"}}},
                    "fill": {"field":"m","type":"nominal","scale":{"domain":["APU Rayleigh","2DVD Rayleigh"],"range":["#0000ff","#ff00ff"]}},
                    "stroke": {"field":"m","type":"nominal","scale":{"domain":["APU Rayleigh","2DVD Rayleigh"],"range":["#0000ff","#ff00ff"]}}}},
      {"data": {"values": [{"v":0,"h":0}]}, "mark": {"type":"point","opacity":0},
       "encoding": {"x": {"field":"v","type":"quantitative","scale":{"domain":[0,45],"nice":false},"axis":{"orient":"top","labels":false,"title":null,"tickCount":45,"tickSize":{"condition":{"test":"datum.value % 10 === 0","value":-12},"value":-6}}},
                    "y": {"field":"h","type":"quantitative","scale":{"domain":[0,4],"nice":false},"axis":{"orient":"right","labels":false,"title":null,"tickCount":20,"tickSize":{"condition":{"test":"datum.value % 1 === 0","value":-12},"value":-6}}}}}
    ], "resolve": {"axis": {"x": "independent", "y": "independent"}}},

    {"width": 346, "height": 283, "layer": [
      {"data": {"values": [{"s":"NPOL RR","h":2,"v":25},{"s":"NPOL RR","h":1.5,"v":10.0},{"s":"NPOL RR","h":1,"v":7.9},{"s":"NPOL RP","h":2,"v":6.4},{"s":"NPOL RP","h":1.5,"v":5.7},{"s":"NPOL RP","h":1,"v":7.3},{"s":"NPOL RC","h":2,"v":6.6},{"s":"NPOL RC","h":1.5,"v":6.3},{"s":"NPOL RC","h":1,"v":7.5},{"s":"KLGX RR","h":4,"v":1.5},{"s":"KLGX RR","h":3.5,"v":1.2},{"s":"KLGX RR","h":3,"v":1.4},{"s":"KLGX RR","h":2.5,"v":1.5},{"s":"KLGX RR","h":2,"v":1.6},{"s":"KLGX RR","h":1.5,"v":4.6},{"s":"KLGX RR","h":1,"v":5.6},{"s":"KLGX RR","h":0.5,"v":5.9},{"s":"KLGX RP","h":2.5,"v":25},{"s":"KLGX RP","h":2,"v":14.4},{"s":"KLGX RP","h":1.5,"v":6.4},{"s":"KLGX RP","h":1,"v":4.7},{"s":"KLGX RP","h":0.5,"v":4.2},{"s":"KLGX RC","h":2.5,"v":8.9},{"s":"KLGX RC","h":2,"v":6.5},{"s":"KLGX RC","h":1.5,"v":5.5},{"s":"KLGX RC","h":1,"v":4.6},{"s":"KLGX RC","h":0.5,"v":4.2}]},
       "mark": {"type": "line", "clip": true},
       "encoding": {
         "x": {"field":"v","type":"quantitative","scale":{"domain":[0,16],"nice":false},"axis":{"values":[0,5,10,15],"ticks":false,"title":null}},
         "y": {"field":"h","type":"quantitative","scale":{"domain":[0,4],"nice":false},"axis":{"values":[0,1,2,3,4],"ticks":false,"title":null}},
         "color": {"field":"s","type":"nominal","scale":{"domain":["NPOL RR","NPOL RP","NPOL RC","KLGX RR","KLGX RP","KLGX RC"],"range":["#000000","#000000","#000000","#9400d3","#9400d3","#9400d3"]},"legend":{"title":null,"legendX":251,"legendY":-7,"symbolType":"stroke","symbolSize":2500,"clipHeight":20,"fillColor":"white","strokeColor":"black","labelColor":{"expr":"indexof(datum.value,'KLGX')===0?'#9400d3':'#000000'"}}},
         "strokeDash": {"field":"s","type":"nominal","scale":{"domain":["NPOL RR","NPOL RP","NPOL RC","KLGX RR","KLGX RP","KLGX RC"],"range":[[1,0],[12,7],[3,6],[1,0],[12,7],[3,6]]}},
         "order": {"field":"h","type":"quantitative"}}},
      {"data": {"values": [{"m":"GPROF","h":0.2,"v":4.2},{"m":"APU","h":0.2,"v":4.8},{"m":"MRMS","h":0.25,"v":6.4},{"m":"Gauges","h":0.2,"v":6.3},{"m":"2DVD","h":0.2,"v":6.7}]}, "mark": {"type":"point"},
       "encoding": {"x": {"field":"v","type":"quantitative","scale":{"domain":[0,16],"nice":false},"axis":{"orient":"bottom","labels":false,"title":null,"tickCount":16,"tickSize":-11}},
                    "y": {"field":"h","type":"quantitative","scale":{"domain":[0,4],"nice":false},"axis":{"orient":"left","labels":false,"title":null,"tickCount":20,"tickSize":{"condition":{"test":"datum.value % 1 === 0","value":-12},"value":-6}}},
                    "shape": {"field":"m","type":"nominal","scale":{"domain":["Gauges","APU","2DVD","GPROF","MRMS"],"range":["circle","triangle-down","square","square","triangle-up"]},"legend":{"title":null,"legendX":111,"legendY":19,"columns":2,"columnPadding":10,"padding":0,"rowPadding":9,"labelFontSize":13,"symbolSize":150,"symbolStrokeWidth":2,"labelOffset":4,"labelColor":{"expr":"indexof(datum.value,'APU')===0?'#0000ff':indexof(datum.value,'2DVD')===0?'#ff00ff':(datum.value==='GPROF'||datum.value==='MRMS')?'#808080':'#000000'"}}},
                    "fill": {"field":"m","type":"nominal","scale":{"domain":["Gauges","APU","2DVD","GPROF","MRMS"],"range":["#000000","#0000ff","#ff00ff","#808080","#808080"]}},
                    "stroke": {"field":"m","type":"nominal","scale":{"domain":["Gauges","APU","2DVD","GPROF","MRMS"],"range":["#000000","#0000ff","#ff00ff","#808080","#808080"]}}}},
      {"data": {"values": [{"v":0,"h":0}]}, "mark": {"type":"point","opacity":0},
       "encoding": {"x": {"field":"v","type":"quantitative","scale":{"domain":[0,16],"nice":false},"axis":{"orient":"top","labels":false,"title":null,"tickCount":16,"tickSize":-11}},
                    "y": {"field":"h","type":"quantitative","scale":{"domain":[0,4],"nice":false},"axis":{"orient":"right","labels":false,"title":null,"tickCount":20,"tickSize":{"condition":{"test":"datum.value % 1 === 0","value":-12},"value":-6}}}}}
    ], "resolve": {"axis": {"x": "independent", "y": "independent"}}},

    {"width": 321, "height": 283, "layer": [
      {"data": {"values": [{"s":"NPOL","h":4,"v":0.62},{"s":"NPOL","h":3.5,"v":0.63},{"s":"NPOL","h":3,"v":0.5},{"s":"NPOL","h":2.5,"v":0.14},{"s":"NPOL","h":1.5,"v":1.6},{"s":"NPOL","h":1,"v":1.41},{"s":"KLGX","h":4,"v":1.48},{"s":"KLGX","h":3.5,"v":1.37},{"s":"KLGX","h":3,"v":1.33},{"s":"KLGX","h":2.5,"v":1.38},{"s":"KLGX","h":2,"v":1.94},{"s":"KLGX","h":1.5,"v":1.88},{"s":"KLGX","h":1,"v":1.75},{"s":"KLGX","h":0.5,"v":1.71},{"s":"MRR*","h":3,"v":0.34},{"s":"MRR*","h":2.5,"v":0.30},{"s":"MRR*","h":2,"v":0.42},{"s":"MRR*","h":1.5,"v":0.86},{"s":"MRR*","h":1,"v":1.63},{"s":"MRR*","h":0.5,"v":2.05}]},
       "mark": {"type": "line", "clip": true},
       "encoding": {
         "x": {"field":"v","type":"quantitative","scale":{"domain":[0,4.5],"nice":false},"axis":{"values":[0,1,2,3,4],"ticks":false,"title":null}},
         "y": {"field":"h","type":"quantitative","scale":{"domain":[0,4],"nice":false},"axis":{"values":[0,1,2,3,4],"ticks":false,"title":null}},
         "color": {"field":"s","type":"nominal","scale":{"domain":["NPOL","KLGX","MRR*"],"range":["#000000","#9400d3","#b22222"]},"legend":{"title":null,"legendX":162,"legendY":23,"labelFont":"Liberation Sans","symbolType":"stroke","symbolSize":2500,"clipHeight":20,"fillColor":"white","strokeColor":"black","labelColor":{"expr":"indexof(datum.value,'KLGX')===0?'#9400d3':datum.value==='MRR*'?'#b22222':'#000000'"}}},
         "order": {"field":"h","type":"quantitative"}}},
      {"data": {"values": [{"m":"APU","h":0.2,"v":1.51},{"m":"2DVD","h":0.2,"v":1.66}]}, "mark": {"type":"point"},
       "encoding": {"x": {"field":"v","type":"quantitative","scale":{"domain":[0,4.5],"nice":false},"axis":{"orient":"bottom","labels":false,"title":null,"tickCount":45,"tickSize":{"condition":{"test":"datum.value % 1 === 0","value":-12},"value":-6}}},
                    "y": {"field":"h","type":"quantitative","scale":{"domain":[0,4],"nice":false},"axis":{"orient":"left","labels":false,"title":null,"tickCount":20,"tickSize":{"condition":{"test":"datum.value % 1 === 0","value":-12},"value":-6}}},
                    "shape": {"field":"m","type":"nominal","scale":{"domain":["APU","2DVD"],"range":["triangle-down","square"]},"legend":{"title":null,"legendX":175,"legendY":128,"padding":0,"rowPadding":8,"labelFont":"Liberation Sans","symbolSize":150,"symbolStrokeWidth":2,"labelOffset":5,"labelColor":{"expr":"indexof(datum.value,'APU')===0?'#0000ff':'#ff00ff'"}}},
                    "fill": {"field":"m","type":"nominal","scale":{"domain":["APU","2DVD"],"range":["#0000ff","#ff00ff"]}},
                    "stroke": {"field":"m","type":"nominal","scale":{"domain":["APU","2DVD"],"range":["#0000ff","#ff00ff"]}}}},
      {"data": {"values": [{"v":0,"h":0}]}, "mark": {"type":"point","opacity":0},
       "encoding": {"x": {"field":"v","type":"quantitative","scale":{"domain":[0,4.5],"nice":false},"axis":{"orient":"top","labels":false,"title":null,"tickCount":45,"tickSize":{"condition":{"test":"datum.value % 1 === 0","value":-12},"value":-6}}},
                    "y": {"field":"h","type":"quantitative","scale":{"domain":[0,4],"nice":false},"axis":{"orient":"right","labels":false,"title":null,"tickCount":20,"tickSize":{"condition":{"test":"datum.value % 1 === 0","value":-12},"value":-6}}}}}
    ], "resolve": {"axis": {"x": "independent", "y": "independent"}}},

    {"width": 343, "height": 283, "layer": [
      {"data": {"values": [{"s":"NPOL","h":4,"v":21.3},{"s":"NPOL","h":3.5,"v":22.2},{"s":"NPOL","h":3,"v":22.4},{"s":"NPOL","h":2.5,"v":27.1},{"s":"NPOL","h":2,"v":34.8},{"s":"NPOL","h":1.5,"v":40.8},{"s":"NPOL","h":1,"v":37.3},{"s":"NPOL","h":0.5,"v":25.9},{"s":"KLGX","h":4,"v":17.5},{"s":"KLGX","h":3,"v":22.6},{"s":"KLGX","h":2.5,"v":25.6},{"s":"KLGX","h":2,"v":28.9},{"s":"KLGX","h":1.5,"v":25.9},{"s":"KLGX","h":1,"v":23.2},{"s":"KLGX","h":0.5,"v":13.8},{"s":"DOW6","h":4,"v":11.3},{"s":"DOW6","h":3.5,"v":14.4},{"s":"DOW6","h":3,"v":14.5},{"s":"DOW6","h":2.5,"v":14.7},{"s":"DOW6","h":2,"v":21.5},{"s":"DOW6","h":1,"v":31.7},{"s":"DOW6","h":0.5,"v":27.7}]},
       "mark": {"type": "line", "clip": true},
       "encoding": {
         "x": {"field":"v","type":"quantitative","scale":{"domain":[0,45],"nice":false},"axis":{"values":[0,10,20,30,40],"ticks":false,"title":null}},
         "y": {"field":"h","type":"quantitative","scale":{"domain":[0,4],"nice":false},"axis":{"values":[0,1,2,3,4],"ticks":false,"title":"Height [km]","titleFont":"Liberation Sans","titleFontSize":17,"titleFontWeight":"normal","titlePadding":12}},
         "color": {"field":"s","type":"nominal","scale":{"domain":["NPOL","KLGX","DOW6"],"range":["#000000","#9400d3","#9370db"]},"legend":{"title":null,"legendX":227,"legendY":-10,"symbolType":"stroke","symbolSize":2500,"clipHeight":20,"fillColor":"white","strokeColor":"black","labelColor":{"expr":"indexof(datum.value,'KLGX')===0?'#9400d3':datum.value==='D3R Ku'?'#ffa500':indexof(datum.value,'DOW')===0?'#9370db':datum.value==='MRR*'?'#b22222':'#000000'"}}},
         "order": {"field":"h","type":"quantitative"}}},
      {"data": {"values": [{"m":"APU Rayleigh","h":0.2,"v":32.2}]}, "mark": {"type":"point"},
       "encoding": {"x": {"field":"v","type":"quantitative","scale":{"domain":[0,45],"nice":false},"axis":{"orient":"bottom","labels":false,"title":null,"tickCount":45,"tickSize":{"condition":{"test":"datum.value % 10 === 0","value":-12},"value":-6}}},
                    "y": {"field":"h","type":"quantitative","scale":{"domain":[0,4],"nice":false},"axis":{"orient":"left","labels":false,"title":null,"tickCount":20,"tickSize":{"condition":{"test":"datum.value % 1 === 0","value":-12},"value":-6}}},
                    "shape": {"field":"m","type":"nominal","scale":{"domain":["APU Rayleigh"],"range":["triangle-down"]},"legend":{"title":null,"legendX":239,"legendY":88,"padding":0,"rowPadding":9,"symbolSize":150,"symbolStrokeWidth":2,"labelOffset":5,"labelColor":"#0000ff"}},
                    "fill": {"field":"m","type":"nominal","scale":{"domain":["APU Rayleigh"],"range":["transparent"]}},
                    "stroke": {"field":"m","type":"nominal","scale":{"domain":["APU Rayleigh"],"range":["#0000ff"]}}}},
      {"data": {"values": [{"v":0,"h":0}]}, "mark": {"type":"point","opacity":0},
       "encoding": {"x": {"field":"v","type":"quantitative","scale":{"domain":[0,45],"nice":false},"axis":{"orient":"top","labels":false,"title":null,"tickCount":45,"tickSize":{"condition":{"test":"datum.value % 10 === 0","value":-12},"value":-6}}},
                    "y": {"field":"h","type":"quantitative","scale":{"domain":[0,4],"nice":false},"axis":{"orient":"right","labels":false,"title":null,"tickCount":20,"tickSize":{"condition":{"test":"datum.value % 1 === 0","value":-12},"value":-6}}}}}
    ], "resolve": {"axis": {"x": "independent", "y": "independent"}}},

    {"width": 346, "height": 283, "layer": [
      {"data": {"values": [{"s":"NPOL RP","h":2.5,"v":1.1},{"s":"NPOL RP","h":2,"v":17},{"s":"NPOL RP","h":1.5,"v":25},{"s":"NPOL RP","h":1,"v":12.2},{"s":"NPOL RP","h":0.5,"v":1.5},{"s":"NPOL RC","h":2.5,"v":1.2},{"s":"NPOL RC","h":2,"v":8.1},{"s":"NPOL RC","h":1.5,"v":16.0},{"s":"NPOL RC","h":1,"v":9.0},{"s":"NPOL RC","h":0.5,"v":1.5},{"s":"KLGX RR","h":3,"v":1.7},{"s":"KLGX RR","h":2.5,"v":1.9},{"s":"KLGX RR","h":2,"v":1.9},{"s":"KLGX RR","h":1.5,"v":1.6},{"s":"KLGX RR","h":1,"v":1.2},{"s":"KLGX RR","h":0.5,"v":0.1},{"s":"KLGX RP","h":2.9,"v":9.0},{"s":"KLGX RP","h":2.5,"v":10.5},{"s":"KLGX RP","h":2,"v":10.6},{"s":"KLGX RP","h":1.5,"v":8.9},{"s":"KLGX RP","h":1,"v":6.2},{"s":"KLGX RP","h":0.5,"v":0.1},{"s":"KLGX RC","h":3,"v":3.3},{"s":"KLGX RC","h":2.5,"v":4.9},{"s":"KLGX RC","h":2,"v":4.8},{"s":"KLGX RC","h":1.5,"v":3.8},{"s":"KLGX RC","h":1,"v":2.4},{"s":"KLGX RC","h":0.5,"v":0.1}]},
       "mark": {"type": "line", "clip": true},
       "encoding": {
         "x": {"field":"v","type":"quantitative","scale":{"domain":[0,16],"nice":false},"axis":{"values":[0,5,10,15],"ticks":false,"title":null}},
         "y": {"field":"h","type":"quantitative","scale":{"domain":[0,4],"nice":false},"axis":{"values":[0,1,2,3,4],"ticks":false,"title":null}},
         "color": {"field":"s","type":"nominal","scale":{"domain":["NPOL RR","NPOL RP","NPOL RC","KLGX RR","KLGX RP","KLGX RC"],"range":["#000000","#000000","#000000","#9400d3","#9400d3","#9400d3"]},"legend":{"title":null,"legendX":251,"legendY":-20,"symbolType":"stroke","symbolSize":2500,"clipHeight":20,"fillColor":"white","strokeColor":"black","labelColor":{"expr":"indexof(datum.value,'KLGX')===0?'#9400d3':'#000000'"}}},
         "strokeDash": {"field":"s","type":"nominal","scale":{"domain":["NPOL RR","NPOL RP","NPOL RC","KLGX RR","KLGX RP","KLGX RC"],"range":[[1,0],[12,7],[3,6],[1,0],[12,7],[3,6]]}},
         "order": {"field":"h","type":"quantitative"}}},
      {"data": {"values": [{"m":"MRMS","h":0.22,"v":2.5},{"m":"GPROF","h":0.2,"v":3.5},{"m":"APU","h":0.2,"v":4.1}]}, "mark": {"type":"point"},
       "encoding": {"x": {"field":"v","type":"quantitative","scale":{"domain":[0,16],"nice":false},"axis":{"orient":"bottom","labels":false,"title":null,"tickCount":16,"tickSize":-11}},
                    "y": {"field":"h","type":"quantitative","scale":{"domain":[0,4],"nice":false},"axis":{"orient":"left","labels":false,"title":null,"tickCount":20,"tickSize":{"condition":{"test":"datum.value % 1 === 0","value":-12},"value":-6}}},
                    "shape": {"field":"m","type":"nominal","scale":{"domain":["GPROF","MRMS","APU"],"range":["square","triangle-up","triangle-down"]},"legend":{"title":null,"legendX":185,"legendY":16,"padding":0,"rowPadding":9,"labelFontSize":13,"symbolSize":150,"symbolStrokeWidth":2,"labelOffset":4,"labelColor":{"expr":"indexof(datum.value,'APU')===0?'#0000ff':'#808080'"}}},
                    "fill": {"field":"m","type":"nominal","scale":{"domain":["GPROF","MRMS","APU"],"range":["#808080","#808080","transparent"]}},
                    "stroke": {"field":"m","type":"nominal","scale":{"domain":["GPROF","MRMS","APU"],"range":["#808080","#808080","#0000ff"]}}}},
      {"data": {"values": [{"v":0,"h":0}]}, "mark": {"type":"point","opacity":0},
       "encoding": {"x": {"field":"v","type":"quantitative","scale":{"domain":[0,16],"nice":false},"axis":{"orient":"top","labels":false,"title":null,"tickCount":16,"tickSize":-11}},
                    "y": {"field":"h","type":"quantitative","scale":{"domain":[0,4],"nice":false},"axis":{"orient":"right","labels":false,"title":null,"tickCount":20,"tickSize":{"condition":{"test":"datum.value % 1 === 0","value":-12},"value":-6}}}}}
    ], "resolve": {"axis": {"x": "independent", "y": "independent"}}},

    {"width": 321, "height": 283, "layer": [
      {"data": {"values": [{"s":"NPOL","h":4,"v":0.53},{"s":"NPOL","h":3.5,"v":0.74},{"s":"NPOL","h":3,"v":0.64},{"s":"NPOL","h":2.5,"v":0.24},{"s":"NPOL","h":2,"v":0.14},{"s":"NPOL","h":1.5,"v":0.5},{"s":"NPOL","h":1,"v":0.57},{"s":"NPOL","h":0.5,"v":0.24},{"s":"KLGX","h":4,"v":1.32},{"s":"KLGX","h":3.5,"v":1.3},{"s":"KLGX","h":3,"v":1.29},{"s":"KLGX","h":2.5,"v":1.2},{"s":"KLGX","h":2,"v":1.11},{"s":"KLGX","h":1.5,"v":1.15},{"s":"KLGX","h":1,"v":1.21},{"s":"KLGX","h":0.5,"v":1.45}]},
       "mark": {"type": "line", "clip": true},
       "encoding": {
         "x": {"field":"v","type":"quantitative","scale":{"domain":[0,4.5],"nice":false},"axis":{"values":[0,1,2,3,4],"ticks":false,"title":null}},
         "y": {"field":"h","type":"quantitative","scale":{"domain":[0,4],"nice":false},"axis":{"values":[0,1,2,3,4],"ticks":false,"title":null}},
         "color": {"field":"s","type":"nominal","scale":{"domain":["NPOL","KLGX"],"range":["#000000","#9400d3"]},"legend":{"title":null,"legendX":162,"legendY":30,"labelFont":"Liberation Sans","symbolType":"stroke","symbolSize":2500,"clipHeight":20,"fillColor":"white","strokeColor":"black","labelColor":{"expr":"indexof(datum.value,'KLGX')===0?'#9400d3':'#000000'"}}},
         "order": {"field":"h","type":"quantitative"}}},
      {"data": {"values": [{"m":"APU","h":0.2,"v":1.23}]}, "mark": {"type":"point"},
       "encoding": {"x": {"field":"v","type":"quantitative","scale":{"domain":[0,4.5],"nice":false},"axis":{"orient":"bottom","labels":false,"title":null,"tickCount":45,"tickSize":{"condition":{"test":"datum.value % 1 === 0","value":-12},"value":-6}}},
                    "y": {"field":"h","type":"quantitative","scale":{"domain":[0,4],"nice":false},"axis":{"orient":"left","labels":false,"title":null,"tickCount":20,"tickSize":{"condition":{"test":"datum.value % 1 === 0","value":-12},"value":-6}}},
                    "shape": {"field":"m","type":"nominal","scale":{"domain":["APU"],"range":["triangle-down"]},"legend":{"title":null,"legendX":184,"legendY":115,"padding":0,"rowPadding":9,"labelFont":"Liberation Sans","symbolSize":150,"symbolStrokeWidth":2,"labelOffset":5,"labelColor":"#0000ff"}},
                    "fill": {"field":"m","type":"nominal","scale":{"domain":["APU"],"range":["transparent"]}},
                    "stroke": {"field":"m","type":"nominal","scale":{"domain":["APU"],"range":["#0000ff"]}}}},
      {"data": {"values": [{"v":0,"h":0}]}, "mark": {"type":"point","opacity":0},
       "encoding": {"x": {"field":"v","type":"quantitative","scale":{"domain":[0,4.5],"nice":false},"axis":{"orient":"top","labels":false,"title":null,"tickCount":45,"tickSize":{"condition":{"test":"datum.value % 1 === 0","value":-12},"value":-6}}},
                    "y": {"field":"h","type":"quantitative","scale":{"domain":[0,4],"nice":false},"axis":{"orient":"right","labels":false,"title":null,"tickCount":20,"tickSize":{"condition":{"test":"datum.value % 1 === 0","value":-12},"value":-6}}}}}
    ], "resolve": {"axis": {"x": "independent", "y": "independent"}}},

    {"width": 343, "height": 283, "layer": [
      {"data": {"values": [{"s":"NPOL","h":4,"v":10.7},{"s":"NPOL","h":3.5,"v":14.7},{"s":"NPOL","h":3,"v":18.3},{"s":"NPOL","h":2.5,"v":19.6},{"s":"NPOL","h":2,"v":17.8},{"s":"NPOL","h":1.5,"v":11.0},{"s":"KLGX","h":4,"v":10.7},{"s":"KLGX","h":3.5,"v":13.6},{"s":"KLGX","h":3,"v":15.8},{"s":"KLGX","h":2.5,"v":17.8},{"s":"KLGX","h":2,"v":16.9},{"s":"KLGX","h":1.5,"v":16.0},{"s":"KLGX","h":1,"v":7.5},{"s":"DOW","h":3.8,"v":0.3},{"s":"DOW","h":3.5,"v":3.9},{"s":"DOW","h":3,"v":7.6},{"s":"DOW","h":2.5,"v":8.1},{"s":"DOW","h":2,"v":3.5},{"s":"DOW","h":1.8,"v":0.15}]},
       "mark": {"type": "line", "clip": true},
       "encoding": {
         "x": {"field":"v","type":"quantitative","scale":{"domain":[0,45],"nice":false},"axis":{"values":[0,10,20,30,40],"ticks":false,"title":"Reflectivity [dBZ]","titleFont":"Liberation Sans Narrow, DejaVu Sans Condensed, Liberation Sans, sans-serif","titleFontSize":19,"titleFontWeight":"normal","titlePadding":5}},
         "y": {"field":"h","type":"quantitative","scale":{"domain":[0,4],"nice":false},"axis":{"values":[0,1,2,3,4],"ticks":false,"title":"Height [km]","titleFont":"Liberation Sans","titleFontSize":17,"titleFontWeight":"normal","titlePadding":12}},
         "color": {"field":"s","type":"nominal","scale":{"domain":["NPOL","KLGX","DOW"],"range":["#000000","#9400d3","#9370db"]},"legend":{"title":null,"legendX":193,"legendY":76,"symbolType":"stroke","symbolSize":2500,"clipHeight":20,"fillColor":"white","strokeColor":"black","labelColor":{"expr":"indexof(datum.value,'KLGX')===0?'#9400d3':indexof(datum.value,'DOW')===0?'#9370db':'#000000'"}}},
         "order": {"field":"h","type":"quantitative"}}},
      {"data": {"values": [{"m":"APU Rayleigh","h":0.2,"v":36.3}]}, "mark": {"type":"point"},
       "encoding": {"x": {"field":"v","type":"quantitative","scale":{"domain":[0,45],"nice":false},"axis":{"orient":"bottom","labels":false,"title":null,"tickCount":45,"tickSize":{"condition":{"test":"datum.value % 10 === 0","value":-12},"value":-6}}},
                    "y": {"field":"h","type":"quantitative","scale":{"domain":[0,4],"nice":false},"axis":{"orient":"left","labels":false,"title":null,"tickCount":20,"tickSize":{"condition":{"test":"datum.value % 1 === 0","value":-12},"value":-6}}},
                    "shape": {"field":"m","type":"nominal","scale":{"domain":["APU Rayleigh"],"range":["triangle-down"]},"legend":{"title":null,"legendX":215,"legendY":173,"padding":0,"rowPadding":9,"symbolSize":150,"symbolStrokeWidth":2,"labelOffset":5,"labelColor":"#0000ff"}},
                    "fill": {"field":"m","type":"nominal","scale":{"domain":["APU Rayleigh"],"range":["transparent"]}},
                    "stroke": {"field":"m","type":"nominal","scale":{"domain":["APU Rayleigh"],"range":["#0000ff"]}}}},
      {"data": {"values": [{"v":0,"h":0}]}, "mark": {"type":"point","opacity":0},
       "encoding": {"x": {"field":"v","type":"quantitative","scale":{"domain":[0,45],"nice":false},"axis":{"orient":"top","labels":false,"title":null,"tickCount":45,"tickSize":{"condition":{"test":"datum.value % 10 === 0","value":-12},"value":-6}}},
                    "y": {"field":"h","type":"quantitative","scale":{"domain":[0,4],"nice":false},"axis":{"orient":"right","labels":false,"title":null,"tickCount":20,"tickSize":{"condition":{"test":"datum.value % 1 === 0","value":-12},"value":-6}}}}}
    ], "resolve": {"axis": {"x": "independent", "y": "independent"}}},

    {"width": 346, "height": 283, "layer": [
      {"data": {"values": [{"s":"NPOL RR","h":4,"v":0.05},{"s":"NPOL RR","h":3.5,"v":0.15},{"s":"NPOL RR","h":3,"v":0.4},{"s":"NPOL RR","h":2.5,"v":0.45},{"s":"NPOL RR","h":2,"v":0.25},{"s":"NPOL RR","h":1.5,"v":0.15}]},
       "mark": {"type": "line", "clip": true},
       "encoding": {
         "x": {"field":"v","type":"quantitative","scale":{"domain":[0,16],"nice":false},"axis":{"values":[0,5,10,15],"ticks":false,"title":"Precipitation Rate [mm/h]","titleFont":"Liberation Sans Narrow, DejaVu Sans Condensed, Liberation Sans, sans-serif","titleFontSize":19,"titleFontWeight":"normal","titlePadding":5}},
         "y": {"field":"h","type":"quantitative","scale":{"domain":[0,4],"nice":false},"axis":{"values":[0,1,2,3,4],"ticks":false,"title":null}},
         "color": {"field":"s","type":"nominal","scale":{"domain":["NPOL RR","NPOL RP","NPOL RC","KLGX RR","KLGX RP","KLGX RC"],"range":["#000000","#000000","#000000","#9400d3","#9400d3","#9400d3"]},"legend":{"title":null,"legendX":201,"legendY":6,"symbolType":"stroke","symbolSize":2500,"clipHeight":20,"fillColor":"white","strokeColor":"black","labelColor":{"expr":"indexof(datum.value,'KLGX')===0?'#9400d3':'#000000'"}}},
         "strokeDash": {"field":"s","type":"nominal","scale":{"domain":["NPOL RR","NPOL RP","NPOL RC","KLGX RR","KLGX RP","KLGX RC"],"range":[[1,0],[12,7],[3,6],[1,0],[12,7],[3,6]]}},
         "order": {"field":"h","type":"quantitative"}}},
      {"data": {"values": [{"m":"GPROF","h":0.2,"v":1.1},{"m":"MRMS","h":0.22,"v":1.3},{"m":"APU","h":0.2,"v":6.3}]}, "mark": {"type":"point"},
       "encoding": {"x": {"field":"v","type":"quantitative","scale":{"domain":[0,16],"nice":false},"axis":{"orient":"bottom","labels":false,"title":null,"tickCount":16,"tickSize":-11}},
                    "y": {"field":"h","type":"quantitative","scale":{"domain":[0,4],"nice":false},"axis":{"orient":"left","labels":false,"title":null,"tickCount":20,"tickSize":{"condition":{"test":"datum.value % 1 === 0","value":-12},"value":-6}}},
                    "shape": {"field":"m","type":"nominal","scale":{"domain":["GPROF","MRMS","APU"],"range":["square","triangle-up","triangle-down"]},"legend":{"title":null,"legendX":140,"legendY":20,"padding":0,"rowPadding":9,"labelFontSize":13,"symbolSize":150,"symbolStrokeWidth":2,"labelOffset":4,"labelColor":{"expr":"indexof(datum.value,'APU')===0?'#0000ff':'#808080'"}}},
                    "fill": {"field":"m","type":"nominal","scale":{"domain":["GPROF","MRMS","APU"],"range":["#808080","#808080","transparent"]}},
                    "stroke": {"field":"m","type":"nominal","scale":{"domain":["GPROF","MRMS","APU"],"range":["#808080","#808080","#0000ff"]}}}},
      {"data": {"values": [{"v":0,"h":0}]}, "mark": {"type":"point","opacity":0},
       "encoding": {"x": {"field":"v","type":"quantitative","scale":{"domain":[0,16],"nice":false},"axis":{"orient":"top","labels":false,"title":null,"tickCount":16,"tickSize":-11}},
                    "y": {"field":"h","type":"quantitative","scale":{"domain":[0,4],"nice":false},"axis":{"orient":"right","labels":false,"title":null,"tickCount":20,"tickSize":{"condition":{"test":"datum.value % 1 === 0","value":-12},"value":-6}}}}}
    ], "resolve": {"axis": {"x": "independent", "y": "independent"}}},

    {"width": 321, "height": 283, "layer": [
      {"data": {"values": [{"s":"NPOL","h":4,"v":0.5},{"s":"NPOL","h":3.5,"v":0.44},{"s":"NPOL","h":3,"v":0.6},{"s":"NPOL","h":2.5,"v":0.8},{"s":"NPOL","h":2,"v":0.83},{"s":"NPOL","h":1.5,"v":0.31},{"s":"NPOL","h":1,"v":0.01},{"s":"KLGX","h":4,"v":1.06},{"s":"KLGX","h":3.5,"v":1.14},{"s":"KLGX","h":3,"v":1.17},{"s":"KLGX","h":2.5,"v":1.2},{"s":"KLGX","h":2,"v":1.21},{"s":"KLGX","h":1.5,"v":1.21}]},
       "mark": {"type": "line", "clip": true},
       "encoding": {
         "x": {"field":"v","type":"quantitative","scale":{"domain":[0,4.5],"nice":false},"axis":{"values":[0,1,2,3,4],"ticks":false,"title":"Mass-weighted Mean Diameter [mm]","titleFont":"Liberation Sans","titleFontSize":18,"titleFontWeight":"normal","titlePadding":5}},
         "y": {"field":"h","type":"quantitative","scale":{"domain":[0,4],"nice":false},"axis":{"values":[0,1,2,3,4],"ticks":false,"title":null}},
         "color": {"field":"s","type":"nominal","scale":{"domain":["NPOL","KLGX"],"range":["#000000","#9400d3"]},"legend":{"title":null,"legendX":149,"legendY":76,"labelFont":"Liberation Sans","symbolType":"stroke","symbolSize":2500,"clipHeight":20,"fillColor":"white","strokeColor":"black","labelColor":{"expr":"indexof(datum.value,'KLGX')===0?'#9400d3':'#000000'"}}},
         "order": {"field":"h","type":"quantitative"}}},
      {"data": {"values": [{"m":"APU","h":0.2,"v":1.49}]}, "mark": {"type":"point"},
       "encoding": {"x": {"field":"v","type":"quantitative","scale":{"domain":[0,4.5],"nice":false},"axis":{"orient":"bottom","labels":false,"title":null,"tickCount":45,"tickSize":{"condition":{"test":"datum.value % 1 === 0","value":-12},"value":-6}}},
                    "y": {"field":"h","type":"quantitative","scale":{"domain":[0,4],"nice":false},"axis":{"orient":"left","labels":false,"title":null,"tickCount":20,"tickSize":{"condition":{"test":"datum.value % 1 === 0","value":-12},"value":-6}}},
                    "shape": {"field":"m","type":"nominal","scale":{"domain":["APU"],"range":["triangle-down"]},"legend":{"title":null,"legendX":172,"legendY":151,"padding":0,"rowPadding":9,"labelFont":"Liberation Sans","symbolSize":150,"symbolStrokeWidth":2,"labelOffset":5,"labelColor":"#0000ff"}},
                    "fill": {"field":"m","type":"nominal","scale":{"domain":["APU"],"range":["transparent"]}},
                    "stroke": {"field":"m","type":"nominal","scale":{"domain":["APU"],"range":["#0000ff"]}}}},
      {"data": {"values": [{"v":0,"h":0}]}, "mark": {"type":"point","opacity":0},
       "encoding": {"x": {"field":"v","type":"quantitative","scale":{"domain":[0,4.5],"nice":false},"axis":{"orient":"top","labels":false,"title":null,"tickCount":45,"tickSize":{"condition":{"test":"datum.value % 1 === 0","value":-12},"value":-6}}},
                    "y": {"field":"h","type":"quantitative","scale":{"domain":[0,4],"nice":false},"axis":{"orient":"right","labels":false,"title":null,"tickCount":20,"tickSize":{"condition":{"test":"datum.value % 1 === 0","value":-12},"value":-6}}}}}
    ], "resolve": {"axis": {"x": "independent", "y": "independent"}}}
  ], "columns": 3, "spacing": {"row": 50, "column": 70}, "bounds": "flush", "align": "each",
  "resolve": {"scale": {"color": "independent", "strokeDash": "independent", "shape": "independent", "fill": "independent", "stroke": "independent"}}}
], "spacing": 5,
"resolve": {"scale": {"color": "independent", "strokeDash": "independent", "shape": "independent", "fill": "independent", "stroke": "independent"}}}
]
}
